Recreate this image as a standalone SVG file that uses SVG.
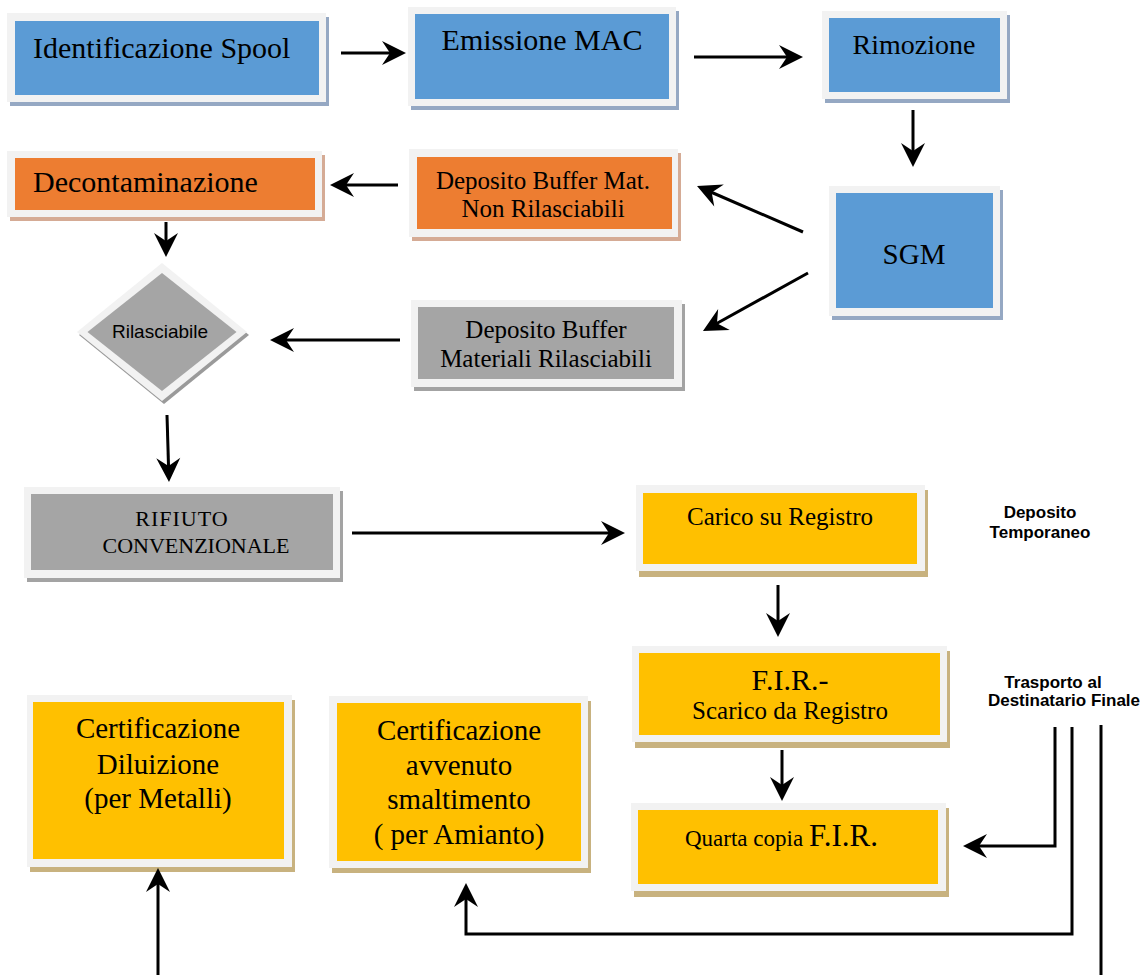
<svg xmlns="http://www.w3.org/2000/svg" width="1144" height="975" viewBox="0 0 1144 975">
<defs>
<style>
.frame{fill:#f2f2f2}
.blue{fill:#5b9bd5}
.orange{fill:#ed7d31}
.gray{fill:#a5a5a5}
.yellow{fill:#ffc000}
.shb{fill:#95a8c3}
.sho{fill:#d5ab95}
.shg{fill:#a3a3a3}
.shy{fill:#c8b27f}
.t{font-family:"Liberation Serif","Times New Roman",serif;fill:#000}
.c{text-anchor:middle}
.s{font-family:"Liberation Sans",Arial,sans-serif;fill:#000}
.conn{fill:none;stroke:#000;stroke-width:3}
</style>
<marker id="ah" viewBox="-16 -13 28 26" refX="0" refY="0" markerWidth="28" markerHeight="26" markerUnits="userSpaceOnUse" orient="auto">
<path d="M10,0 L-14,-12 L-6,0 L-14,12 Z" fill="#000"/>
</marker>
</defs>
<rect width="1144" height="975" fill="#fff"/>

<g id="identificazione">
<rect class="shb" x="10" y="17" width="319" height="89"/>
<rect class="frame" x="7" y="13" width="319" height="89"/>
<rect class="blue" x="15" y="21" width="304" height="74"/>
<text class="t" x="33" y="58" font-size="30">Identificazione Spool</text>
</g>

<g id="emissione">
<rect class="shb" x="411" y="11" width="268" height="99"/>
<rect class="frame" x="408" y="7" width="268" height="99"/>
<rect class="blue" x="415" y="14" width="254" height="85"/>
<text class="t c" x="542" y="50" font-size="30">Emissione MAC</text>
</g>

<g id="rimozione">
<rect class="shb" x="825" y="15" width="185" height="88"/>
<rect class="frame" x="822" y="11" width="185" height="88"/>
<rect class="blue" x="829" y="18" width="171" height="74"/>
<text class="t c" x="914" y="54" font-size="28">Rimozione</text>
</g>

<g id="sgm">
<rect class="shb" x="832" y="190" width="171" height="130"/>
<rect class="frame" x="829" y="186" width="171" height="130"/>
<rect class="blue" x="836" y="193" width="157" height="115"/>
<text class="t c" x="914" y="264" font-size="29">SGM</text>
</g>

<g id="decontaminazione">
<rect class="sho" x="10" y="155" width="315" height="66"/>
<rect class="frame" x="7" y="151" width="315" height="66"/>
<rect class="orange" x="15" y="158" width="300" height="52"/>
<text class="t" x="33" y="192" font-size="30">Decontaminazione</text>
</g>

<g id="deposito-non-rilasciabili">
<rect class="sho" x="412" y="153" width="269" height="88"/>
<rect class="frame" x="409" y="149" width="269" height="88"/>
<rect class="orange" x="417" y="157" width="255" height="72"/>
<text class="t c" x="543" y="189" font-size="25">Deposito Buffer Mat.</text>
<text class="t c" x="543" y="217" font-size="25">Non Rilasciabili</text>
</g>

<g id="deposito-rilasciabili">
<rect class="shg" x="414" y="304" width="271" height="87"/>
<rect class="frame" x="411" y="300" width="271" height="87"/>
<rect class="gray" x="418" y="307" width="256" height="72"/>
<text class="t c" x="546" y="338" font-size="25">Deposito Buffer</text>
<text class="t c" x="546" y="367" font-size="25">Materiali Rilasciabili</text>
</g>

<g id="rilasciabile">
<polygon points="164,266 249,335 164,404 79,335" fill="#9a9a9a"/>
<polygon class="frame" points="162,263 247,332 162,401 77,332"/>
<polygon class="gray" points="162,273 236.5,332 162,391 87.5,332"/>
<text class="s c" x="160" y="338" font-size="19">Rilasciabile</text>
</g>

<g id="rifiuto">
<rect class="shg" x="27" y="491" width="316" height="91"/>
<rect class="frame" x="24" y="487" width="316" height="91"/>
<rect class="gray" x="31" y="494" width="302" height="76"/>
<text class="t c" x="182" y="526" font-size="22" letter-spacing="1">RIFIUTO</text>
<text class="t c" x="196" y="553" font-size="22">CONVENZIONALE</text>
</g>

<g id="carico">
<rect class="shy" x="639" y="490" width="289" height="87"/>
<rect class="frame" x="636" y="485" width="289" height="86"/>
<rect class="yellow" x="643" y="493" width="274" height="71"/>
<text class="t c" x="780" y="525" font-size="25">Carico su Registro</text>
</g>

<g id="fir">
<rect class="shy" x="635" y="651" width="315" height="97"/>
<rect class="frame" x="632" y="646" width="315" height="96"/>
<rect class="yellow" x="639" y="653" width="301" height="82"/>
<text class="t c" x="790" y="690" font-size="30">F.I.R.-</text>
<text class="t c" x="790" y="719" font-size="25">Scarico da Registro</text>
</g>

<g id="quarta-copia">
<rect class="shy" x="634" y="808" width="315" height="89"/>
<rect class="frame" x="631" y="803" width="315" height="88"/>
<rect class="yellow" x="638" y="810" width="300" height="74"/>
<text class="t" x="685" y="846"><tspan font-size="23">Quarta copia </tspan><tspan font-size="31">F.I.R.</tspan></text>
</g>

<g id="cert-diluizione">
<rect class="shy" x="30" y="700" width="265" height="172"/>
<rect class="frame" x="27" y="695" width="265" height="172"/>
<rect class="yellow" x="33" y="702" width="251" height="157"/>
<text class="t c" x="158" y="738" font-size="29">Certificazione</text>
<text class="t c" x="158" y="774" font-size="29">Diluizione</text>
<text class="t c" x="158" y="808" font-size="29">(per Metalli)</text>
</g>

<g id="cert-amianto">
<rect class="shy" x="332" y="701" width="259" height="172"/>
<rect class="frame" x="329" y="696" width="259" height="172"/>
<rect class="yellow" x="337" y="703" width="244" height="158"/>
<text class="t c" x="459" y="740" font-size="29">Certificazione</text>
<text class="t c" x="459" y="775" font-size="29">avvenuto</text>
<text class="t c" x="459" y="809" font-size="29">smaltimento</text>
<text class="t c" x="459" y="844" font-size="29">( per Amianto)</text>
</g>

<g id="label-deposito-temporaneo">
<text class="s c" x="1040" y="518" font-size="17" font-weight="bold">Deposito</text>
<text class="s c" x="1040" y="538" font-size="17" font-weight="bold">Temporaneo</text>
</g>

<g id="label-trasporto">
<text class="s c" x="1053" y="688" font-size="17" font-weight="bold">Trasporto al</text>
<text class="s c" x="1064" y="706" font-size="17" font-weight="bold">Destinatario Finale</text>
</g>

<g id="connectors">
<line class="conn" x1="341" y1="53" x2="396" y2="53" marker-end="url(#ah)"/>
<line class="conn" x1="694" y1="57" x2="793" y2="57" marker-end="url(#ah)"/>
<line class="conn" x1="913" y1="110" x2="913" y2="157" marker-end="url(#ah)"/>
<line class="conn" x1="803" y1="232" x2="706.2" y2="190" marker-end="url(#ah)"/>
<line class="conn" x1="808" y1="273" x2="711.7" y2="326.2" marker-end="url(#ah)"/>
<line class="conn" x1="398" y1="185" x2="340" y2="185" marker-end="url(#ah)"/>
<line class="conn" x1="166" y1="222" x2="166" y2="247" marker-end="url(#ah)"/>
<line class="conn" x1="400" y1="340" x2="280" y2="340" marker-end="url(#ah)"/>
<line class="conn" x1="167" y1="415" x2="168.7" y2="472" marker-end="url(#ah)"/>
<line class="conn" x1="352" y1="533" x2="615" y2="533" marker-end="url(#ah)"/>
<line class="conn" x1="778" y1="585" x2="778" y2="627" marker-end="url(#ah)"/>
<line class="conn" x1="782" y1="750" x2="782" y2="791" marker-end="url(#ah)"/>
<polyline class="conn" points="1055,727 1055,846 973,846" marker-end="url(#ah)"/>
<polyline class="conn" points="1072,727 1072,934 466,934 466,893" marker-end="url(#ah)"/>
<line class="conn" x1="1101" y1="725" x2="1101" y2="975"/>
<line class="conn" x1="158" y1="975" x2="158" y2="878" marker-end="url(#ah)"/>
</g>
</svg>
